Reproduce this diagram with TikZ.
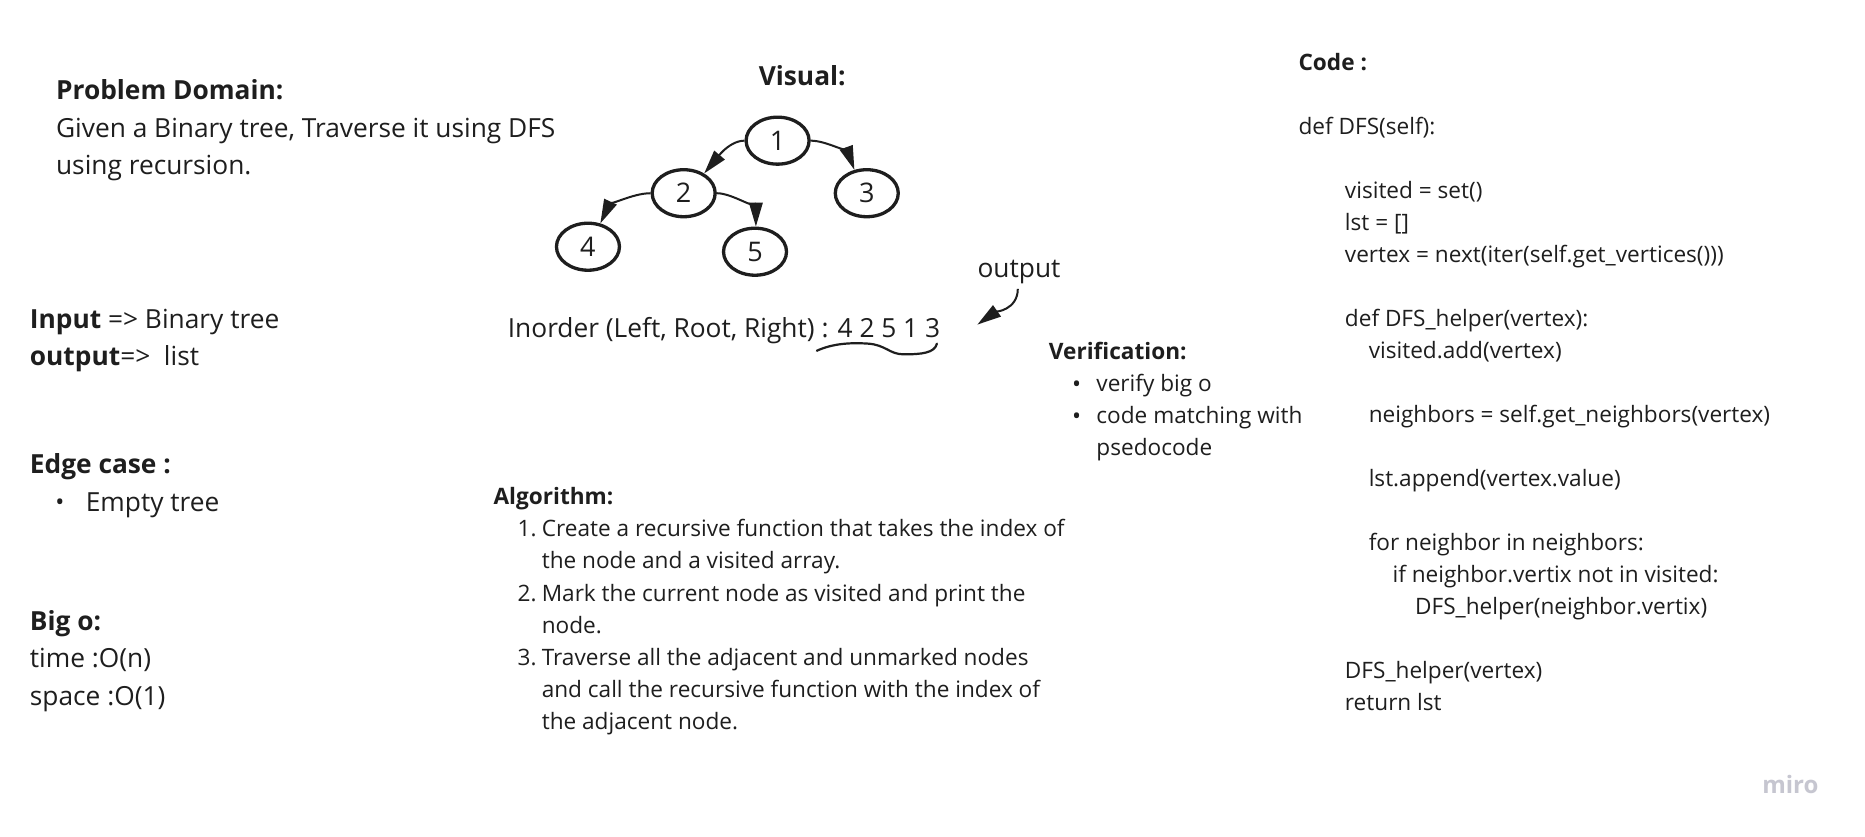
\documentclass[tikz,border=0pt]{standalone}
\usepackage{fontspec}
\setmainfont{Open Sans}
\usetikzlibrary{arrows.meta,shapes.geometric,calc}
\definecolor{ink}{HTML}{1E1E1E}
\definecolor{logo}{HTML}{C6C6D0}
\tikzset{
  txt/.style={anchor=base west, inner sep=0pt, text=ink, font=\fontsize{26.3}{37}\selectfont},
  hd/.style={txt, font=\fontsize{26.3}{37}\selectfont\bfseries},
  sm/.style={anchor=base west, inner sep=0pt, text=ink, font=\fontsize{22.6}{32}\selectfont},
  hsm/.style={sm, font=\fontsize{22.6}{32}\selectfont\bfseries},
  num/.style={sm, anchor=base east},
  bul/.style={anchor=base west, inner sep=0pt, text=ink, font=\fontsize{24}{26}\selectfont},
  tnode/.style={ellipse, draw=ink, line width=3.3pt, minimum width=63pt, minimum height=47pt, inner sep=0pt, text=ink, font=\fontsize{27}{30}\selectfont},
  edge/.style={draw=ink, line width=2pt, -{Triangle[length=24pt,width=13.5pt]}},
}
\begin{document}
\begin{tikzpicture}[x=1.189pt, y=-1.189pt]
\useasboundingbox (0,0) rectangle (1568.55,703.95);
\fill[white] (0,0) rectangle (1568.55,703.95);

% left column
\node[hd]  (pdh) at (47,83.5)  {Problem Domain:};
\node[txt] (pd1) at (47,115.5) {Given a Binary tree, Traverse it using DFS};
\node[txt] (pd2) at (47,146.5) {using recursion.};
\node[txt] (io1) at (25,276.5) {\textbf{Input} => Binary tree};
\node[txt] (io2) at (25,307.5) {\textbf{output}=>\ \ list};
\node[hd]  (ech) at (25,398.5) {Edge case :};
\node[bul] (ecb) at (46.5,429.5) {•};
\node[txt] (ec1) at (72,430.5) {Empty tree};
\node[hd]  (boh) at (25,530.5) {Big o:};
\node[txt] (bo1) at (25,561.5) {time :O(n)};
\node[txt] (bo2) at (25,593.5) {space :O(1)};

% visual
\node[hd] (vis) at (638,71.5) {Visual:};
\node[tnode] (n1) at (654,118.3) {1};
\node[tnode] (n2) at (575,162.5) {2};
\node[tnode] (n3) at (729,162.5) {3};
\node[tnode] (n4) at (494.5,207.5) {4};
\node[tnode] (n5) at (635,211.7) {5};
\draw[edge] (n1.west) to[out=180,in=50,looseness=0.8] (n2.44);
\draw[edge] (n1.east) to[out=0,in=110,looseness=0.8] (n3.118);
\draw[edge] (n2.west) to[out=180,in=65,looseness=0.8] (n4.62);
\draw[edge] (n2.east) to[out=0,in=90,looseness=0.8] (n5.88);

\node[txt] (ino) at (427,283.5) {Inorder (Left, Root, Right) : 4 2 5 1 3};
\node[txt] (outl) at (822,233.5) {output};
\coordinate (otip) at (822,273);
\draw[edge] ($(outl.south)+(-1,4)$) to[out=-90,in=35] (otip);
\draw[draw=ink, line width=2.2pt, line cap=round]
  (687,295) .. controls (700,289) and (715,288) .. (730,289)
  .. controls (745,290) and (748,298) .. (760,298)
  .. controls (775,298) and (786,297) .. (788,289);

% verification
\node[hsm] (verh) at (882,302.5) {Verification:};
\node[bul] (vb1) at (901.5,330) {•};
\node[sm] (v1)  at (922,329.5) {verify big o};
\node[bul] (vb2) at (901.5,357) {•};
\node[sm] (v2)  at (922,356.5) {code matching with};
\node[sm] (v3)  at (922,383.5) {psedocode};

% algorithm
\node[hsm] (algh) at (415,424.5) {Algorithm:};
\node[num] (a1n) at (451.5,451.5) {1.};
\node[sm] (a1a) at (455.5,451.5) {Create a recursive function that takes the index of};
\node[sm] (a1b) at (455.5,478.5) {the node and a visited array.};
\node[num] (a2n) at (451.5,505.5) {2.};
\node[sm] (a2a) at (455.5,505.5) {Mark the current node as visited and print the};
\node[sm] (a2b) at (455.5,532.5) {node.};
\node[num] (a3n) at (451.5,559.5) {3.};
\node[sm] (a3a) at (455.5,559.5) {Traverse all the adjacent and unmarked nodes};
\node[sm] (a3b) at (455.5,586.5) {and call the recursive function with the index of};
\node[sm] (a3c) at (455.5,613.5) {the adjacent node.};

% code
\node[hsm] (codeh) at (1092,59.5) {Code :};
\node[sm] (c1)  at (1092,113.3) {def DFS(self):};
\node[sm] (c2)  at (1131,167.1) {visited = set()};
\node[sm] (c3)  at (1131,194) {lst = []};
\node[sm] (c4)  at (1131,220.9) {vertex = next(iter(self.get\_vertices()))};
\node[sm] (c5)  at (1131,274.7) {def DFS\_helper(vertex):};
\node[sm] (c6)  at (1151,301.6) {visited.add(vertex)};
\node[sm] (c7)  at (1151,355.4) {neighbors = self.get\_neighbors(vertex)};
\node[sm] (c8)  at (1151,409.2) {lst.append(vertex.value)};
\node[sm] (c9)  at (1151,463) {for neighbor in neighbors:};
\node[sm] (c10) at (1171,489.9) {if neighbor.vertix not in visited:};
\node[sm] (c11) at (1190,516.8) {DFS\_helper(neighbor.vertix)};
\node[sm] (c12) at (1131,570.6) {DFS\_helper(vertex)};
\node[sm] (c13) at (1131,597.5) {return lst};

\node[anchor=base west, inner sep=0pt, text=logo, font=\fontsize{24}{28}\selectfont\bfseries] (miro) at (1482,667) {miro};
\end{tikzpicture}
\end{document}
